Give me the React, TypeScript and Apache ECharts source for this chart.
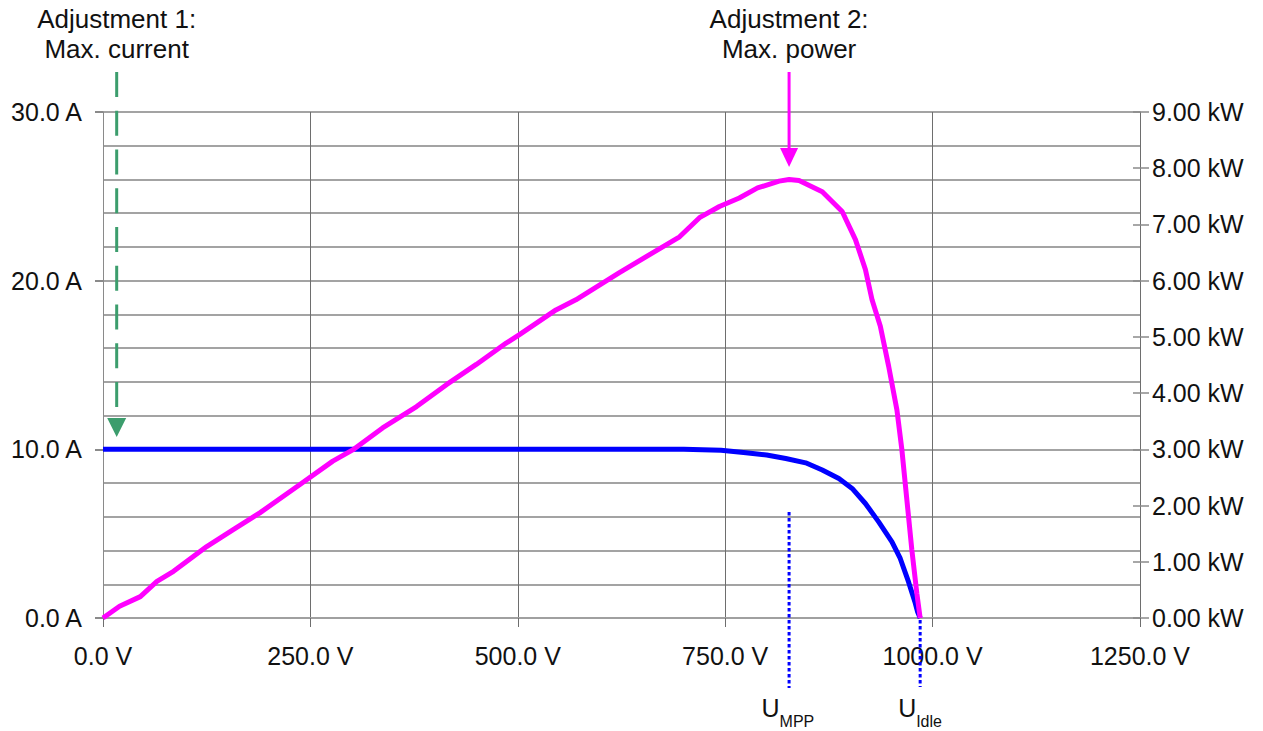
import React, { useEffect, useRef } from "react";
import * as echarts from "echarts";

// Current curve (left axis, A) vs voltage (V)
const VOLTS_I = [0, 100, 200, 300, 400, 500, 600, 700, 745, 775, 800, 823, 847, 867, 887, 903, 919, 935, 951, 961, 971, 979, 982, 985];
const CURRENT_A = [10, 10, 10, 10, 10, 10, 10, 10, 9.94, 9.8, 9.66, 9.46, 9.2, 8.77, 8.27, 7.68, 6.79, 5.7, 4.52, 3.53, 2.14, 0.9, 0.35, 0];

// Power curve (right axis, kW) vs voltage (V)
const VOLTS_P = [0, 20, 45, 65, 85, 125, 157, 189, 237, 277, 301, 337, 378, 414, 450, 486, 502, 546, 570, 622, 695, 719, 743, 767, 789, 815, 827, 839, 867, 891, 907, 919, 927, 937, 947, 957, 963, 969, 975, 981, 985];
const POWER_KW = [0, 0.21, 0.38, 0.65, 0.83, 1.27, 1.57, 1.87, 2.37, 2.79, 2.99, 3.38, 3.76, 4.15, 4.51, 4.89, 5.04, 5.48, 5.66, 6.14, 6.78, 7.12, 7.32, 7.47, 7.65, 7.77, 7.8, 7.78, 7.58, 7.23, 6.73, 6.2, 5.66, 5.19, 4.48, 3.7, 2.99, 2.1, 1.21, 0.44, 0];

// Axis ranges
const X_MIN = 0, X_MAX = 1250, X_STEP = 250;
const I_MIN = 0, I_MAX = 30, I_STEP = 10, I_GRID_STEP = 2;
const P_MIN = 0, P_MAX = 9, P_STEP = 1;

// Annotation positions (in data units)
const ADJ1_VOLTAGE = 16.5;
const MPP_VOLTAGE = 827;
const IDLE_VOLTAGE = 985;

const ANNOT1 = ["Adjustment 1:", "Max. current"];
const ANNOT2 = ["Adjustment 2:", "Max. power"];

const FONT = '"Liberation Sans", Arial, Helvetica, sans-serif';
const GREEN = "#3c9d6d";
const MAGENTA = "#ff00ff";
const BLUE = "#0000ff";

export default function App() {
  const ref = useRef<HTMLDivElement>(null);

  useEffect(() => {
    const chart = echarts.init(ref.current!, null, { renderer: "svg" });
    chart.setOption({
      animation: false,
      textStyle: { fontFamily: FONT },
      grid: { left: 103, right: 123, top: 112, bottom: 113, containLabel: false },
      xAxis: {
        type: "value",
        min: X_MIN,
        max: X_MAX,
        interval: X_STEP,
        axisLine: { show: true, lineStyle: { color: "#a0a0a0", width: 2 } },
        axisTick: { show: true, length: 9, lineStyle: { color: "#6e6e6e", width: 1 } },
        axisLabel: {
          formatter: (v: number) => v.toFixed(1) + " V",
          fontSize: 25,
          color: "#111",
          margin: 25,
          fontFamily: FONT,
        },
        splitLine: { show: true, lineStyle: { color: "#6e6e6e", width: 1 } },
      },
      yAxis: [
        {
          type: "value",
          position: "left",
          min: I_MIN,
          max: I_MAX,
          interval: I_STEP,
          axisLine: { show: true, lineStyle: { color: "#8a8a8a", width: 1 } },
          axisTick: { show: true, length: 8, lineStyle: { color: "#8a8a8a", width: 2 } },
          axisLabel: {
            formatter: (v: number) => v.toFixed(1) + " A",
            fontSize: 25,
            color: "#111",
            margin: 21,
            fontFamily: FONT,
          },
          splitLine: { show: false },
        },
        {
          type: "value",
          position: "right",
          min: P_MIN,
          max: P_MAX,
          interval: P_STEP,
          axisLine: { show: true, lineStyle: { color: "#6e6e6e", width: 1 } },
          axisTick: { show: true, length: 9, lineStyle: { color: "#8a8a8a", width: 1.5 } },
          axisLabel: {
            formatter: (v: number) => v.toFixed(2) + " kW",
            fontSize: 25,
            color: "#111",
            margin: 12,
            fontFamily: FONT,
          },
          splitLine: { show: false },
        },
        {
          type: "value",
          position: "left",
          min: I_MIN,
          max: I_MAX,
          interval: I_GRID_STEP,
          axisLine: { show: false },
          axisTick: { show: false },
          axisLabel: { show: false },
          splitLine: { show: true, lineStyle: { color: "#a3a3a3", width: 2 } },
        },
        {
          type: "value",
          position: "right",
          min: P_MIN,
          max: P_MAX,
          interval: P_STEP,
          axisLine: { show: false },
          axisTick: { show: true, inside: true, length: 7, lineStyle: { color: "#8a8a8a", width: 1.5 } },
          axisLabel: { show: false },
          splitLine: { show: false },
        },
      ],
      series: [
        {
          type: "line",
          name: "Current",
          yAxisIndex: 0,
          data: VOLTS_I.map((v, i) => [v, CURRENT_A[i]]),
          showSymbol: false,
          lineStyle: { color: BLUE, width: 5 },
          itemStyle: { color: BLUE },
          z: 3,
        },
        {
          type: "line",
          name: "Power",
          yAxisIndex: 1,
          data: VOLTS_P.map((v, i) => [v, POWER_KW[i]]),
          showSymbol: false,
          lineStyle: { color: MAGENTA, width: 5 },
          itemStyle: { color: MAGENTA },
          z: 4,
        },
      ],
    });

    const px = (v: number) => chart.convertToPixel({ xAxisIndex: 0 }, v) as number;
    const gx = px(ADJ1_VOLTAGE);
    const mx = px(MPP_VOLTAGE);
    const ix = px(IDLE_VOLTAGE);

    const textStyle = (text: string, x: number, y: number, size: number, align: string, lh?: number) => ({
      type: "text",
      x,
      y,
      style: {
        text,
        fontSize: size,
        fontFamily: FONT,
        fill: "#111",
        textAlign: align,
        textVerticalAlign: "middle",
        lineHeight: lh,
      },
      z: 100,
    });

    chart.setOption({
      graphic: [
        // Adjustment 1
        textStyle(ANNOT1.join("\n"), gx, 34, 26, "center", 30),
        {
          type: "line",
          shape: { x1: gx, y1: 72, x2: gx, y2: 407 },
          style: { stroke: GREEN, lineWidth: 3, lineDash: [25, 13.75] },
          z: 100,
        },
        {
          type: "polygon",
          shape: { points: [[gx - 9.5, 418], [gx + 9.5, 418], [gx, 437]] },
          style: { fill: GREEN },
          z: 100,
        },
        // Adjustment 2
        textStyle(ANNOT2.join("\n"), mx, 34, 26, "center", 30),
        {
          type: "line",
          shape: { x1: mx, y1: 72, x2: mx, y2: 150 },
          style: { stroke: MAGENTA, lineWidth: 3 },
          z: 100,
        },
        {
          type: "polygon",
          shape: { points: [[mx - 9, 148], [mx + 9, 148], [mx, 167]] },
          style: { fill: MAGENTA },
          z: 100,
        },
        // U_MPP
        {
          type: "line",
          shape: { x1: mx, y1: 512, x2: mx, y2: 688 },
          style: { stroke: BLUE, lineWidth: 3, lineDash: [3.5, 2.5] },
          z: 100,
        },
        textStyle("U", mx - 27.5, 708, 25, "left"),
        textStyle("MPP", mx - 9.5, 721, 16, "left"),
        // U_Idle
        {
          type: "line",
          shape: { x1: ix, y1: 620, x2: ix, y2: 687 },
          style: { stroke: BLUE, lineWidth: 3, lineDash: [3.5, 2.5] },
          z: 100,
        },
        textStyle("U", ix - 22, 708, 25, "left"),
        textStyle("Idle", ix - 4, 721, 16, "left"),
      ],
    });

    return () => chart.dispose();
  }, []);

  return (
    <div
      ref={ref}
      style={{ position: "fixed", left: 0, top: 0, width: 1263, height: 731, background: "#fff" }}
    />
  );
}
